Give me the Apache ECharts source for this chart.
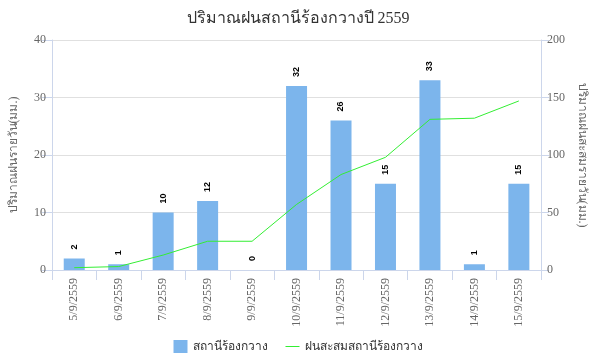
<!DOCTYPE html>
<html><head><meta charset="utf-8">
<script src="https://cdn.jsdelivr.net/npm/echarts@6/dist/echarts.min.js"></script>
<style>html,body{margin:0;padding:0;background:#fff}#c{width:596px;height:360px}</style>
</head><body><div id="c"></div>
<script>
const categories = ['5/9/2559','6/9/2559','7/9/2559','8/9/2559','9/9/2559','10/9/2559','11/9/2559','12/9/2559','13/9/2559','14/9/2559','15/9/2559'];
const dailyRain = [2,1,10,12,0,32,26,15,33,1,15];
const cumulativeRain = [2,3,13,25,25,57,83,98,131,132,147];
const leftTicks = [0,10,20,30,40];
const rightTicks = [0,50,100,150,200];

const serif = '"Liberation Serif","DejaVu Serif",serif';
const chart = echarts.init(document.getElementById('c'));
chart.setOption({
  animation:false,
  title:{text:'ปริมาณฝนสถานีร้องกวางปี 2559',left:'center',top:6,textStyle:{fontFamily:serif,fontSize:16,fontWeight:'normal',color:'#333'}},
  legend:{bottom:2,left:'center',itemWidth:14,itemHeight:13,itemGap:18,textStyle:{fontSize:12,color:'#333',fontFamily:'"Noto Sans",sans-serif'},
    data:[{name:'สถานีร้องกวาง',icon:'rect'},{name:'ฝนสะสมสถานีร้องกวาง',icon:'path://M0,6L14,6L14,7L0,7Z'}]},
  grid:{left:47,right:46,top:40,bottom:90},
  xAxis:{type:'category',data:categories,boundaryGap:true,
    axisLine:{lineStyle:{color:'#ccd6eb'}},
    axisTick:{show:true,length:10,lineStyle:{color:'#ccd6eb'}},
    axisLabel:{rotate:90,fontFamily:serif,fontSize:12,color:'#666',margin:8}},
  yAxis:[
    {type:'value',min:0,max:40,interval:10,name:'ปริมาณฝนรายวัน(มม.)',nameLocation:'middle',nameGap:32,nameRotate:90,
     nameTextStyle:{fontFamily:serif,fontSize:12,color:'#666'},
     axisLine:{show:true,lineStyle:{color:'#ccd6eb'}},axisTick:{show:true,length:10,lineStyle:{color:'#ccd6eb'}},
     axisLabel:{fontFamily:serif,fontSize:12,color:'#666',margin:6},
     splitLine:{lineStyle:{color:'#e0e0e0'}}},
    {type:'value',min:0,max:200,interval:50,name:'ปริมาณฝนสะสมรายวัน(มม.)',nameLocation:'middle',nameGap:32,nameRotate:-90,
     nameTextStyle:{fontFamily:serif,fontSize:12,color:'#666'},
     axisLine:{show:true,lineStyle:{color:'#ccd6eb'}},axisTick:{show:true,length:8,lineStyle:{color:'#ccd6eb'}},
     axisLabel:{fontFamily:serif,fontSize:12,color:'#666',margin:6},
     splitLine:{show:false}}
  ],
  series:[
    {name:'สถานีร้องกวาง',type:'bar',data:dailyRain,barWidth:21,itemStyle:{color:'#7cb5ec'},
     label:{show:true,position:'top',rotate:90,distance:9,fontSize:9,fontWeight:'bold',color:'#000',align:'left',verticalAlign:'middle'}},
    {name:'ฝนสะสมสถานีร้องกวาง',type:'line',yAxisIndex:1,data:cumulativeRain,symbol:'none',lineStyle:{color:'#33ee33',width:1},itemStyle:{color:'#33ee33'}}
  ]
});
</script></body></html>
